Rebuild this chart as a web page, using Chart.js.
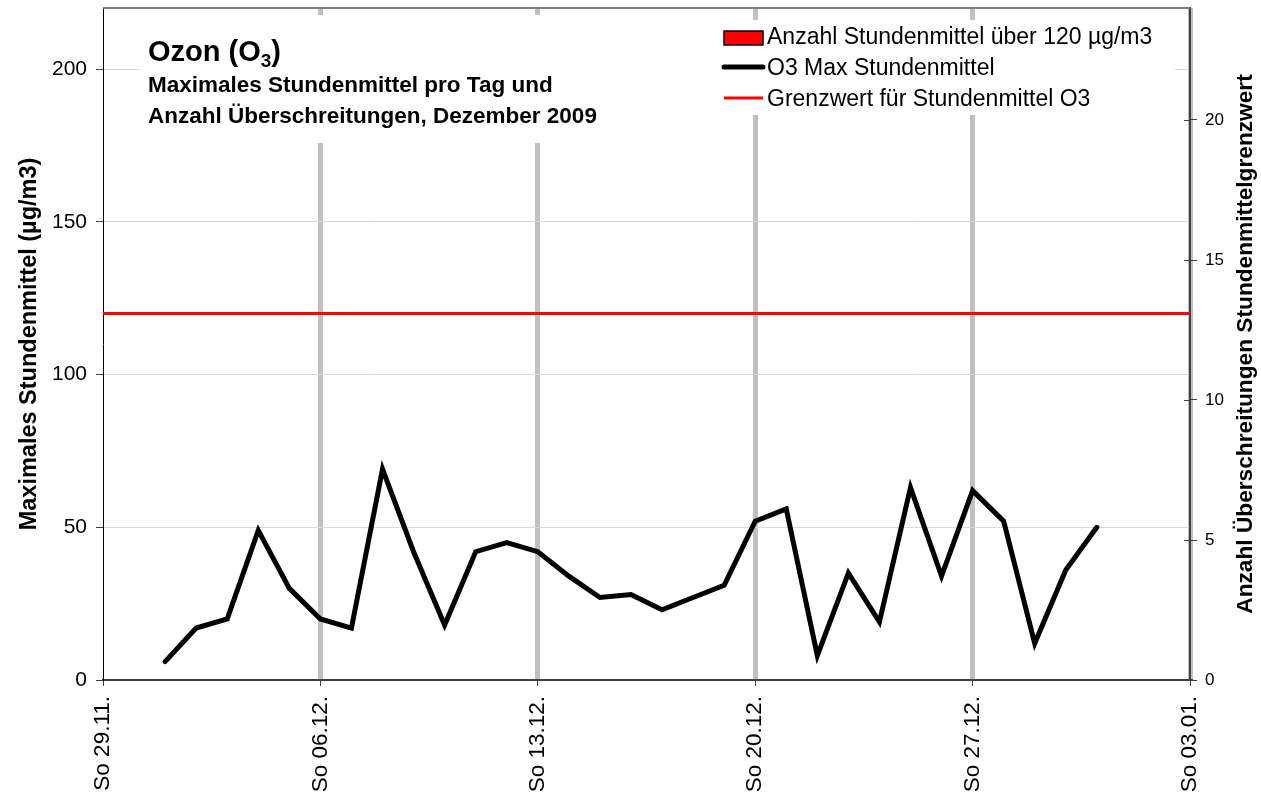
<!DOCTYPE html>
<html>
<head>
<meta charset="utf-8">
<script src="https://cdn.jsdelivr.net/npm/chart.js@4.4.1/dist/chart.umd.min.js"></script>
<style>
  html, body { margin: 0; padding: 0; background: #fff; }
  #wrap { width: 1261px; height: 796px; }
</style>
</head>
<body>
<div id="wrap"><canvas id="chart"></canvas></div>
<script>
// Dezember 2009, ein Wert pro Tag
const days = ['01.12.', '02.12.', '03.12.', '04.12.', '05.12.', '06.12.', '07.12.', '08.12.',
  '09.12.', '10.12.', '11.12.', '12.12.', '13.12.', '14.12.', '15.12.', '16.12.', '17.12.',
  '18.12.', '19.12.', '20.12.', '21.12.', '22.12.', '23.12.', '24.12.', '25.12.', '26.12.',
  '27.12.', '28.12.', '29.12.', '30.12.', '31.12.'];
const o3Max = [6, 17, 20, 49, 30, 20, 17, 69, 42, 18, 42, 45, 42, 34, 27, 28, 23,
  27, 31, 52, 56, 8, 35, 19, 63, 34, 62, 52, 12, 36, 50];
const overCount = [0, 0, 0, 0, 0, 0, 0, 0, 0, 0, 0, 0, 0, 0, 0, 0, 0,
  0, 0, 0, 0, 0, 0, 0, 0, 0, 0, 0, 0, 0, 0];
const limitValue = 120;

// x-Achse: Tage ab So 29.11.
const weekTicks = [0, 7, 14, 21, 28, 35];
const weekLabels = ['So 29.11.', 'So 06.12.', 'So 13.12.', 'So 20.12.', 'So 27.12.', 'So 03.01.'];
const leftTicks = [0, 50, 100, 150, 200];
const rightTicks = [0, 5, 10, 15, 20];

const FONT = '"Liberation Sans", Arial, sans-serif';
Chart.defaults.font.family = FONT;
Chart.defaults.color = '#000';

// Dezember-Tag -> Tage seit 29.11. (01.12. = 2)
const dayX = d => parseInt(d, 10) + 1;

const labels = {
  bars: 'Anzahl Stundenmittel über 120 µg/m3',
  line: 'O3 Max Stundenmittel',
  limit: 'Grenzwert für Stundenmittel O3'
};

// feste Groesse der Achsen, ohne Zusatzabstand fuer Beschriftungen
const fixSize = (w, h) => s => {
  if (w) s.width = w;
  if (h) s.height = h;
  s.paddingTop = 0;
  s.paddingBottom = 0;
  s.paddingLeft = 0;
  s.paddingRight = 0;
};

const overlay = {
  id: 'overlay',
  afterDraw(chart) {
    const ctx = chart.ctx;
    const a = chart.chartArea;
    ctx.save();

    // oberer Rahmen
    ctx.strokeStyle = '#808080';
    ctx.lineWidth = 2;
    ctx.beginPath();
    ctx.moveTo(a.left, a.top);
    ctx.lineTo(a.right, a.top);
    ctx.stroke();

    // Teilstriche rechts auch nach innen
    const y2 = chart.scales.y2;
    ctx.strokeStyle = '#404040';
    ctx.lineWidth = 1;
    y2.ticks.forEach(t => {
      const py = Math.round(y2.getPixelForValue(t.value)) + 0.5;
      ctx.beginPath();
      ctx.moveTo(a.right - 6, py);
      ctx.lineTo(a.right, py);
      ctx.stroke();
    });

    // weisse Felder fuer Titel und Legende
    ctx.fillStyle = '#fff';
    ctx.fillRect(140, 15, 575, 128);
    ctx.fillRect(715, 20, 460, 95);

    // Titel
    ctx.fillStyle = '#000';
    ctx.textBaseline = 'alphabetic';
    ctx.textAlign = 'left';
    let x = 148;
    ctx.font = 'bold 29px ' + FONT;
    ctx.fillText('Ozon (O', x, 61);
    x += ctx.measureText('Ozon (O').width;
    ctx.font = 'bold 19px ' + FONT;
    ctx.fillText('3', x, 67);
    x += ctx.measureText('3').width;
    ctx.font = 'bold 29px ' + FONT;
    ctx.fillText(')', x, 61);

    ctx.font = 'bold 22.5px ' + FONT;
    ctx.fillText('Maximales Stundenmittel pro Tag und', 148, 92);
    ctx.fillText('Anzahl Überschreitungen, Dezember 2009', 148, 123);

    // Legende
    const ds = chart.data.datasets;
    ctx.font = '23px ' + FONT;
    ctx.textBaseline = 'middle';
    const lx = 724, tx = 767;
    ctx.fillStyle = ds[0].backgroundColor;
    ctx.fillRect(lx, 31, 39, 14);
    ctx.strokeStyle = '#000';
    ctx.lineWidth = 1.5;
    ctx.strokeRect(lx, 31, 39, 14);
    ctx.fillStyle = '#000';
    ctx.fillText(ds[0].label, tx, 38);

    ctx.lineCap = 'round';
    ctx.strokeStyle = ds[1].borderColor;
    ctx.lineWidth = 5;
    ctx.beginPath();
    ctx.moveTo(lx, 67);
    ctx.lineTo(lx + 39, 67);
    ctx.stroke();
    ctx.fillText(ds[1].label, tx, 69);

    ctx.lineCap = 'butt';
    ctx.strokeStyle = ds[2].borderColor;
    ctx.lineWidth = 3;
    ctx.beginPath();
    ctx.moveTo(lx, 98);
    ctx.lineTo(lx + 39, 98);
    ctx.stroke();
    ctx.fillText(ds[2].label, tx, 100);

    // Titel rechte Achse (von unten nach oben)
    ctx.translate(1246, (a.top + a.bottom) / 2);
    ctx.rotate(-Math.PI / 2);
    ctx.textAlign = 'center';
    ctx.font = 'bold 22.7px ' + FONT;
    ctx.fillText('Anzahl Überschreitungen Stundenmittelgrenzwert', 0, 0);
    ctx.restore();
  }
};

new Chart(document.getElementById('chart'), {
  data: {
    datasets: [
      {
        type: 'bar',
        label: labels.bars,
        data: days.map((d, i) => ({ x: dayX(d), y: overCount[i] })),
        yAxisID: 'y2',
        backgroundColor: '#ff0000',
        borderColor: '#000',
        borderWidth: 1,
        order: 3
      },
      {
        type: 'line',
        label: labels.line,
        data: days.map((d, i) => ({ x: dayX(d), y: o3Max[i] })),
        yAxisID: 'y',
        borderColor: '#000',
        borderWidth: 5,
        borderCapStyle: 'round',
        pointRadius: 0,
        tension: 0,
        order: 1
      },
      {
        type: 'line',
        label: labels.limit,
        data: [{ x: weekTicks[0], y: limitValue }, { x: weekTicks[weekTicks.length - 1], y: limitValue }],
        yAxisID: 'y',
        borderColor: '#ff0000',
        borderWidth: 3,
        pointRadius: 0,
        order: 2
      }
    ]
  },
  options: {
    responsive: true,
    maintainAspectRatio: false,
    animation: false,
    layout: { padding: { top: 8 } },
    plugins: { legend: { display: false }, tooltip: { enabled: false } },
    scales: {
      x: {
        type: 'linear',
        min: 0,
        max: 35,
        offset: false,
        afterBuildTicks: s => { s.ticks = weekTicks.map(v => ({ value: v })); },
        ticks: {
          autoSkip: false,
          minRotation: 90,
          maxRotation: 90,
          padding: 10,
          font: { size: 22.5 },
          callback: (v, i) => weekLabels[i]
        },
        grid: {
          offset: false,
          color: c => c.index === 0 ? 'rgba(0,0,0,0)' : '#c0c0c0',
          lineWidth: 5,
          tickColor: '#404040',
          tickWidth: 1,
          tickLength: 6
        },
        border: { color: '#404040', width: 2 },
        afterFit: fixSize(0, 116)
      },
      y: {
        position: 'left',
        min: 0,
        max: 220,
        afterBuildTicks: s => { s.ticks = leftTicks.map(v => ({ value: v })); },
        ticks: { font: { size: 21 }, padding: 9 },
        grid: { color: '#d9d9d9', lineWidth: 1, tickColor: '#404040', tickLength: 7 },
        border: { color: '#000', width: 1 },
        title: {
          display: true,
          text: 'Maximales Stundenmittel (µg/m3)',
          font: { size: 23.5, weight: 'bold' },
          padding: { top: 15, bottom: 0 }
        },
        afterFit: fixSize(103, 0)
      },
      y2: {
        position: 'right',
        min: 0,
        max: 24,
        afterBuildTicks: s => { s.ticks = rightTicks.map(v => ({ value: v })); },
        ticks: { font: { size: 17 }, padding: 8 },
        grid: { drawOnChartArea: false, tickColor: '#404040', tickLength: 7 },
        border: { color: '#404040', width: 2 },
        afterFit: fixSize(71, 0)
      }
    }
  },
  plugins: [overlay]
});
</script>
</body>
</html>
